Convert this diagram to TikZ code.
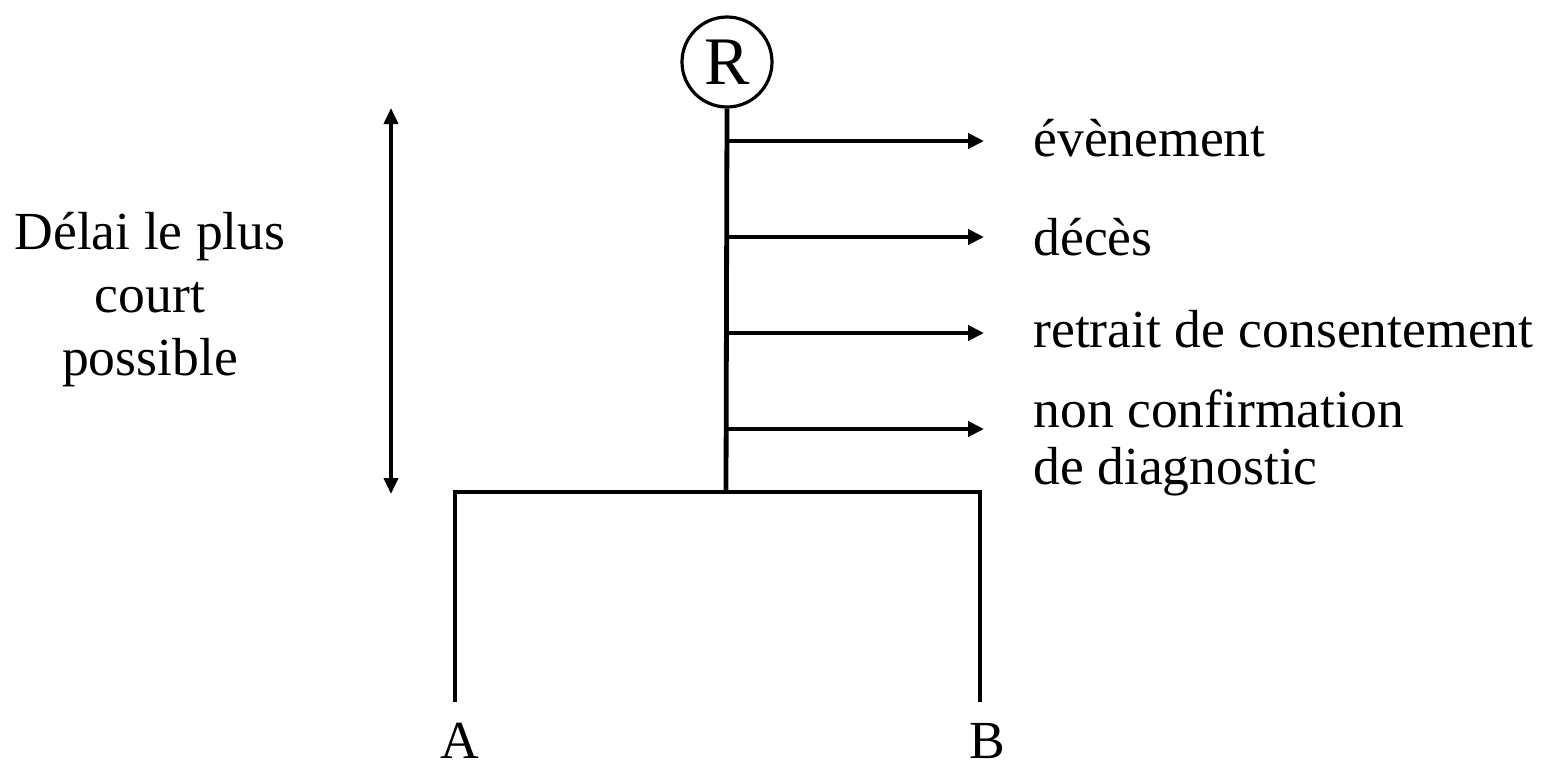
\documentclass[tikz,border=0pt]{standalone}
\usepackage{fontspec}
\setmainfont{Liberation Serif}
\usetikzlibrary{arrows.meta}
\tikzset{
  ln/.style={line width=2.4pt, black},
  arr/.style={ln, -{Triangle[length=8pt,width=7.5pt]}},
  darr/.style={line width=1.9pt, {Triangle[length=8pt,width=7pt]}-{Triangle[length=8pt,width=7pt]}},
  lbl/.style={font=\fontsize{26.8}{31}\selectfont, inner sep=0pt},
}
\begin{document}
\begin{tikzpicture}[x=0.5pt,y=-0.5pt]
\useasboundingbox (0,0) rectangle (1542,766);
\node[circle, draw, line width=1.6pt, minimum size=45pt, inner sep=0pt, font=\fontsize{34}{38}\selectfont] (R) at (727,62) {R};
\coordinate (J) at (726,492);
\coordinate (L) at (455,492);
\coordinate (Rr) at (980,492);
\coordinate (LA) at (455,700);
\coordinate (RB) at (980,700);
\draw[ln] (R.south) -- (J);
\draw[ln, line cap=rect] (LA) -- (L) -- (Rr) -- (RB);
\coordinate (b1) at (726,141); \coordinate (e1) at (984,141);
\coordinate (b2) at (726,237); \coordinate (e2) at (984,237);
\coordinate (b3) at (726,333); \coordinate (e3) at (984,333);
\coordinate (b4) at (726,429); \coordinate (e4) at (984,429);
\draw[arr] (b1) -- (e1);
\draw[arr] (b2) -- (e2);
\draw[arr] (b3) -- (e3);
\draw[arr] (b4) -- (e4);
\coordinate (t) at (391,108);
\coordinate (d) at (391,494);
\draw[darr] (t) -- (d);
\node[lbl, anchor=base west] (n1) at (1033,156) {évènement};
\node[lbl, anchor=base west] (n2) at (1033,255) {décès};
\node[lbl, anchor=base west] (n3) at (1033,347) {retrait de consentement};
\node[lbl, anchor=base west] (n4) at (1033,427) {non confirmation};
\node[lbl, anchor=base west] (n5) at (1033,484) {de diagnostic};
\node[lbl, align=center, font=\fontsize{26.8}{31.5}\selectfont] (dl) at (150,300) {Délai le plus\\court\\possible};
\node[lbl, anchor=base, text depth=0pt] (A) at (460,758) {A};
\node[lbl, anchor=base, text depth=0pt] (B) at (987,758) {B};
\end{tikzpicture}
\end{document}
